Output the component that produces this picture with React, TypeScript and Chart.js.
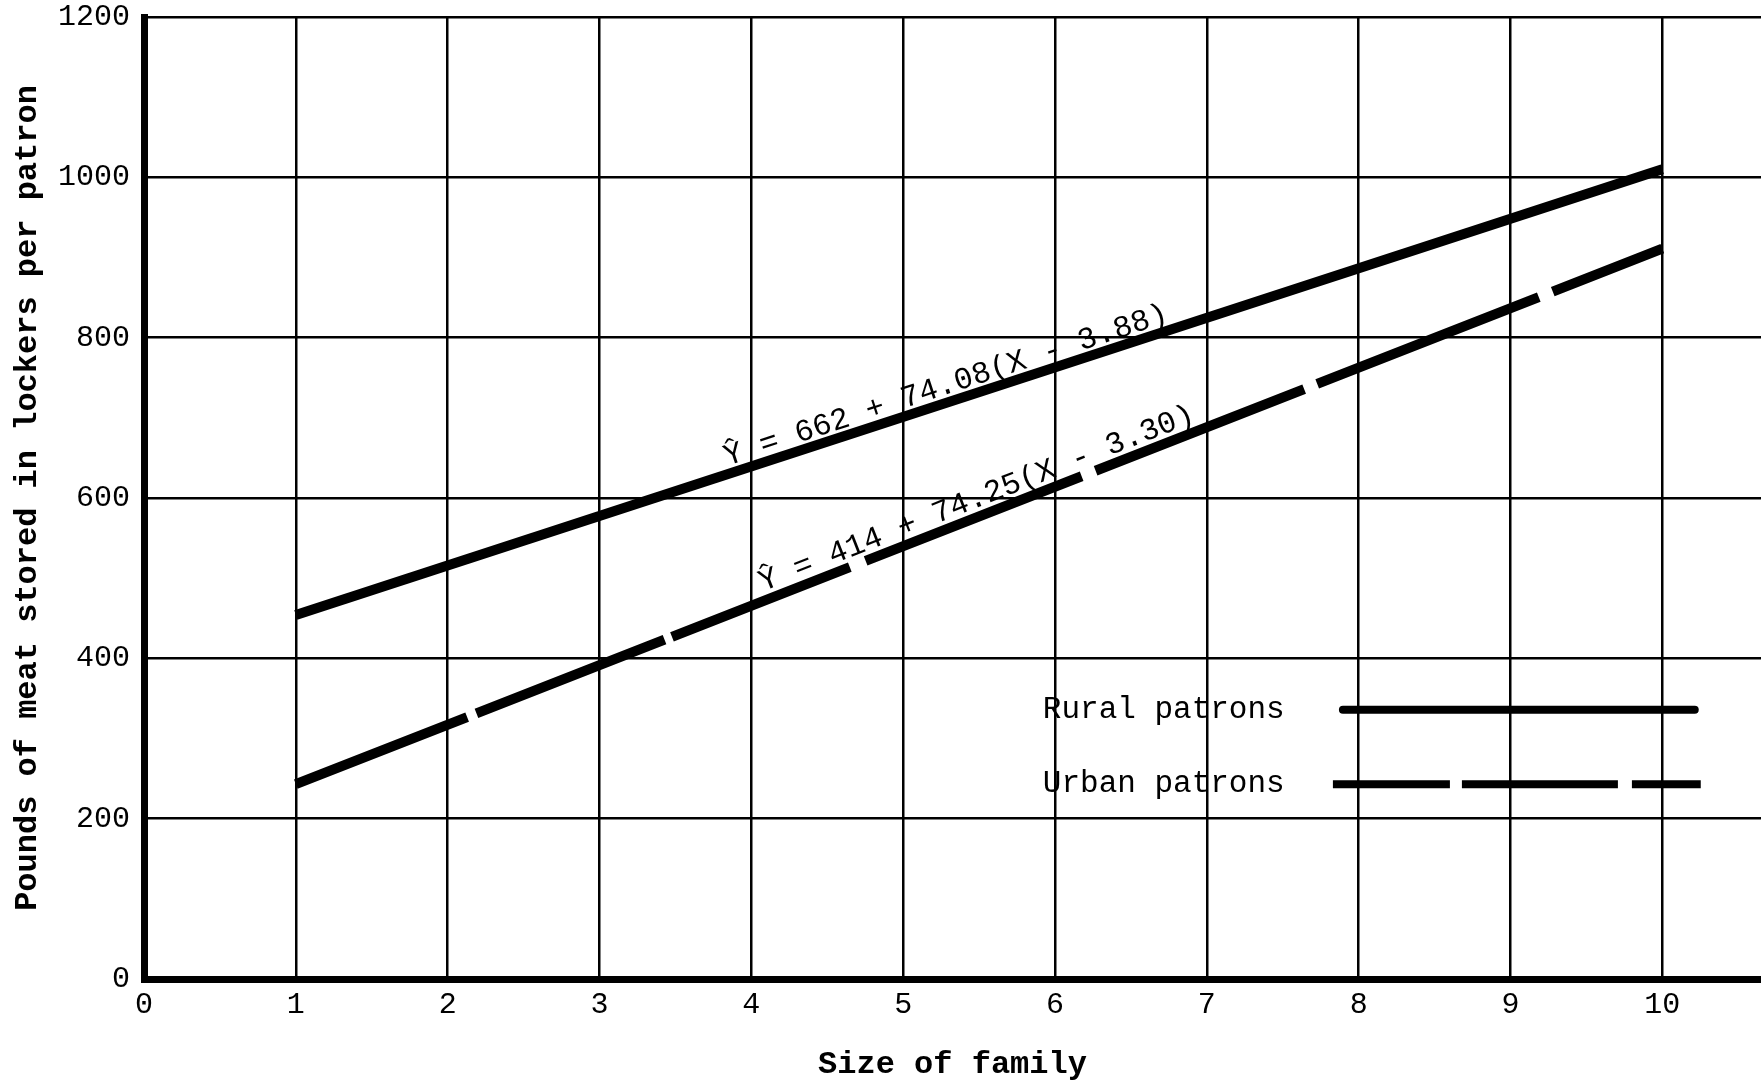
import React, { useEffect, useRef } from "react";
import { Chart, registerables } from "chart.js";

Chart.register(...registerables);

// ---- Data ----
const familySize = [1, 10];
const ruralPounds = [454, 1010];
const urbanPounds = [243, 911];
const xTickValues = [0, 1, 2, 3, 4, 5, 6, 7, 8, 9, 10];
const yTickValues = [0, 200, 400, 600, 800, 1000, 1200];
const ruralLabel = "Rural patrons";
const urbanLabel = "Urban patrons";
const ruralEquation = "Ŷ = 662 + 74.08(X - 3.88)";
const urbanEquation = "Ŷ = 414 + 74.25(X - 3.30)";
const xTitle = "Size of family";
const yTitle = "Pounds of meat stored in lockers per patron";

// ---- Styles ----
const MONO = '"Liberation Mono", "DejaVu Sans Mono", monospace';
const LINE_W = 10;
const URBAN_DASH = [184, 10, 202, 8, 191, 17, 232, 15, 224, 14, 238, 15, 200];
const LEGEND_URBAN_DASH = [117, 12, 156, 14, 70];

const W = 1761;
const H = 1084;

const annotatePlugin = {
  id: "annotate",
  afterDatasetsDraw(chart: any) {
    const { ctx } = chart;
    const xs = chart.scales.x;
    const ys = chart.scales.y;

    const drawEq = (text: string, vals: number[], startX: number, off: number) => {
      const p1x = xs.getPixelForValue(familySize[0]);
      const p1y = ys.getPixelForValue(vals[0]);
      const p2x = xs.getPixelForValue(familySize[1]);
      const p2y = ys.getPixelForValue(vals[1]);
      const ang = Math.atan2(p2y - p1y, p2x - p1x);
      const sx = xs.getPixelForValue(startX);
      const sy = p1y + ((sx - p1x) * (p2y - p1y)) / (p2x - p1x);
      ctx.save();
      ctx.translate(sx, sy);
      ctx.rotate(ang);
      ctx.font = `31px ${MONO}`;
      ctx.fillStyle = "#000";
      ctx.textAlign = "left";
      ctx.textBaseline = "alphabetic";
      ctx.fillText(text, 0, -off);
      ctx.restore();
    };

    drawEq(ruralEquation, ruralPounds, 3.86, 8);
    drawEq(urbanEquation, urbanPounds, 4.1, 9);

    // Legend (inside plot, lower right)
    const textX = xs.getPixelForValue(5.92);
    const lineX1 = xs.getPixelForValue(7.87);
    const lineX2 = xs.getPixelForValue(10.24);
    const ruralY = ys.getPixelForValue(336);
    const urbanY = ys.getPixelForValue(243);

    ctx.save();
    ctx.font = `31px ${MONO}`;
    ctx.fillStyle = "#000";
    ctx.textAlign = "left";
    ctx.textBaseline = "middle";
    ctx.fillText(ruralLabel, textX, ruralY);
    ctx.fillText(urbanLabel, textX, urbanY);

    ctx.strokeStyle = "#000";
    ctx.lineWidth = 8;
    ctx.lineCap = "round";
    ctx.beginPath();
    ctx.moveTo(lineX1 + 4, ruralY);
    ctx.lineTo(lineX2 - 4, ruralY);
    ctx.stroke();

    ctx.lineCap = "butt";
    ctx.setLineDash(LEGEND_URBAN_DASH);
    ctx.beginPath();
    ctx.moveTo(lineX1 - 6, urbanY);
    ctx.lineTo(lineX2 + 2, urbanY);
    ctx.stroke();
    ctx.restore();
  },
};

export default function App() {
  const canvasRef = useRef<HTMLCanvasElement | null>(null);

  useEffect(() => {
    document.body.style.margin = "0";
    document.body.style.background = "#fff";
    const canvas = canvasRef.current;
    if (!canvas) return;

    const chart = new Chart(canvas, {
      type: "line",
      data: {
        datasets: [
          {
            label: ruralLabel,
            data: familySize.map((x, i) => ({ x, y: ruralPounds[i] })),
            borderColor: "#000",
            backgroundColor: "#000",
            borderWidth: LINE_W,
            borderCapStyle: "butt",
            pointRadius: 0,
            fill: false,
            tension: 0,
          },
          {
            label: urbanLabel,
            data: familySize.map((x, i) => ({ x, y: urbanPounds[i] })),
            borderColor: "#000",
            backgroundColor: "#000",
            borderWidth: LINE_W,
            borderCapStyle: "butt",
            borderDash: URBAN_DASH,
            pointRadius: 0,
            fill: false,
            tension: 0,
          },
        ],
      },
      options: {
        responsive: false,
        animation: false,
        devicePixelRatio: 1,
        layout: { padding: { top: 17, right: 0, left: 0, bottom: 0 } },
        plugins: {
          legend: { display: false },
          tooltip: { enabled: false },
          title: { display: false },
        },
        scales: {
          x: {
            type: "linear",
            min: 0,
            max: 10.65,
            afterFit: (scale: any) => {
              scale.height = 105;
              scale.paddingLeft = 0;
              scale.paddingRight = 0;
            },
            afterBuildTicks: (scale: any) => {
              scale.ticks = xTickValues.map((v) => ({ value: v }));
            },
            ticks: {
              stepSize: 1,
              includeBounds: false,
              autoSkip: false,
              maxRotation: 0,
              color: "#000",
              padding: 8,
              font: { family: MONO, size: 30 },
              callback: (v: any) => String(v),
            },
            grid: {
              color: "#000",
              lineWidth: 2.5,
              drawTicks: false,
            },
            border: { display: true, color: "#000", width: 7 },
            title: {
              display: true,
              text: xTitle,
              color: "#000",
              font: { family: MONO, size: 32, weight: "bold" },
              padding: { top: 0, bottom: 0 },
            },
          },
          y: {
            type: "linear",
            min: 0,
            max: 1200,
            afterFit: (scale: any) => {
              scale.width = 144;
              scale.paddingTop = 0;
              scale.paddingBottom = 0;
            },
            afterBuildTicks: (scale: any) => {
              scale.ticks = yTickValues.map((v) => ({ value: v }));
            },
            ticks: {
              stepSize: 200,
              color: "#000",
              padding: 14,
              font: { family: MONO, size: 30 },
              callback: (v: any) => String(v),
            },
            grid: {
              color: "#000",
              lineWidth: 2.5,
              drawTicks: false,
            },
            border: { display: true, color: "#000", width: 7 },
            title: {
              display: true,
              text: yTitle,
              color: "#000",
              font: { family: MONO, size: 32, weight: "bold" },
              padding: { top: 9, bottom: 0 },
            },
          },
        },
      } as any,
      plugins: [annotatePlugin],
    });

    return () => chart.destroy();
  }, []);

  return (
    <div style={{ width: W, height: H, background: "#fff" }}>
      <canvas ref={canvasRef} width={W} height={H} style={{ display: "block" }} />
    </div>
  );
}
